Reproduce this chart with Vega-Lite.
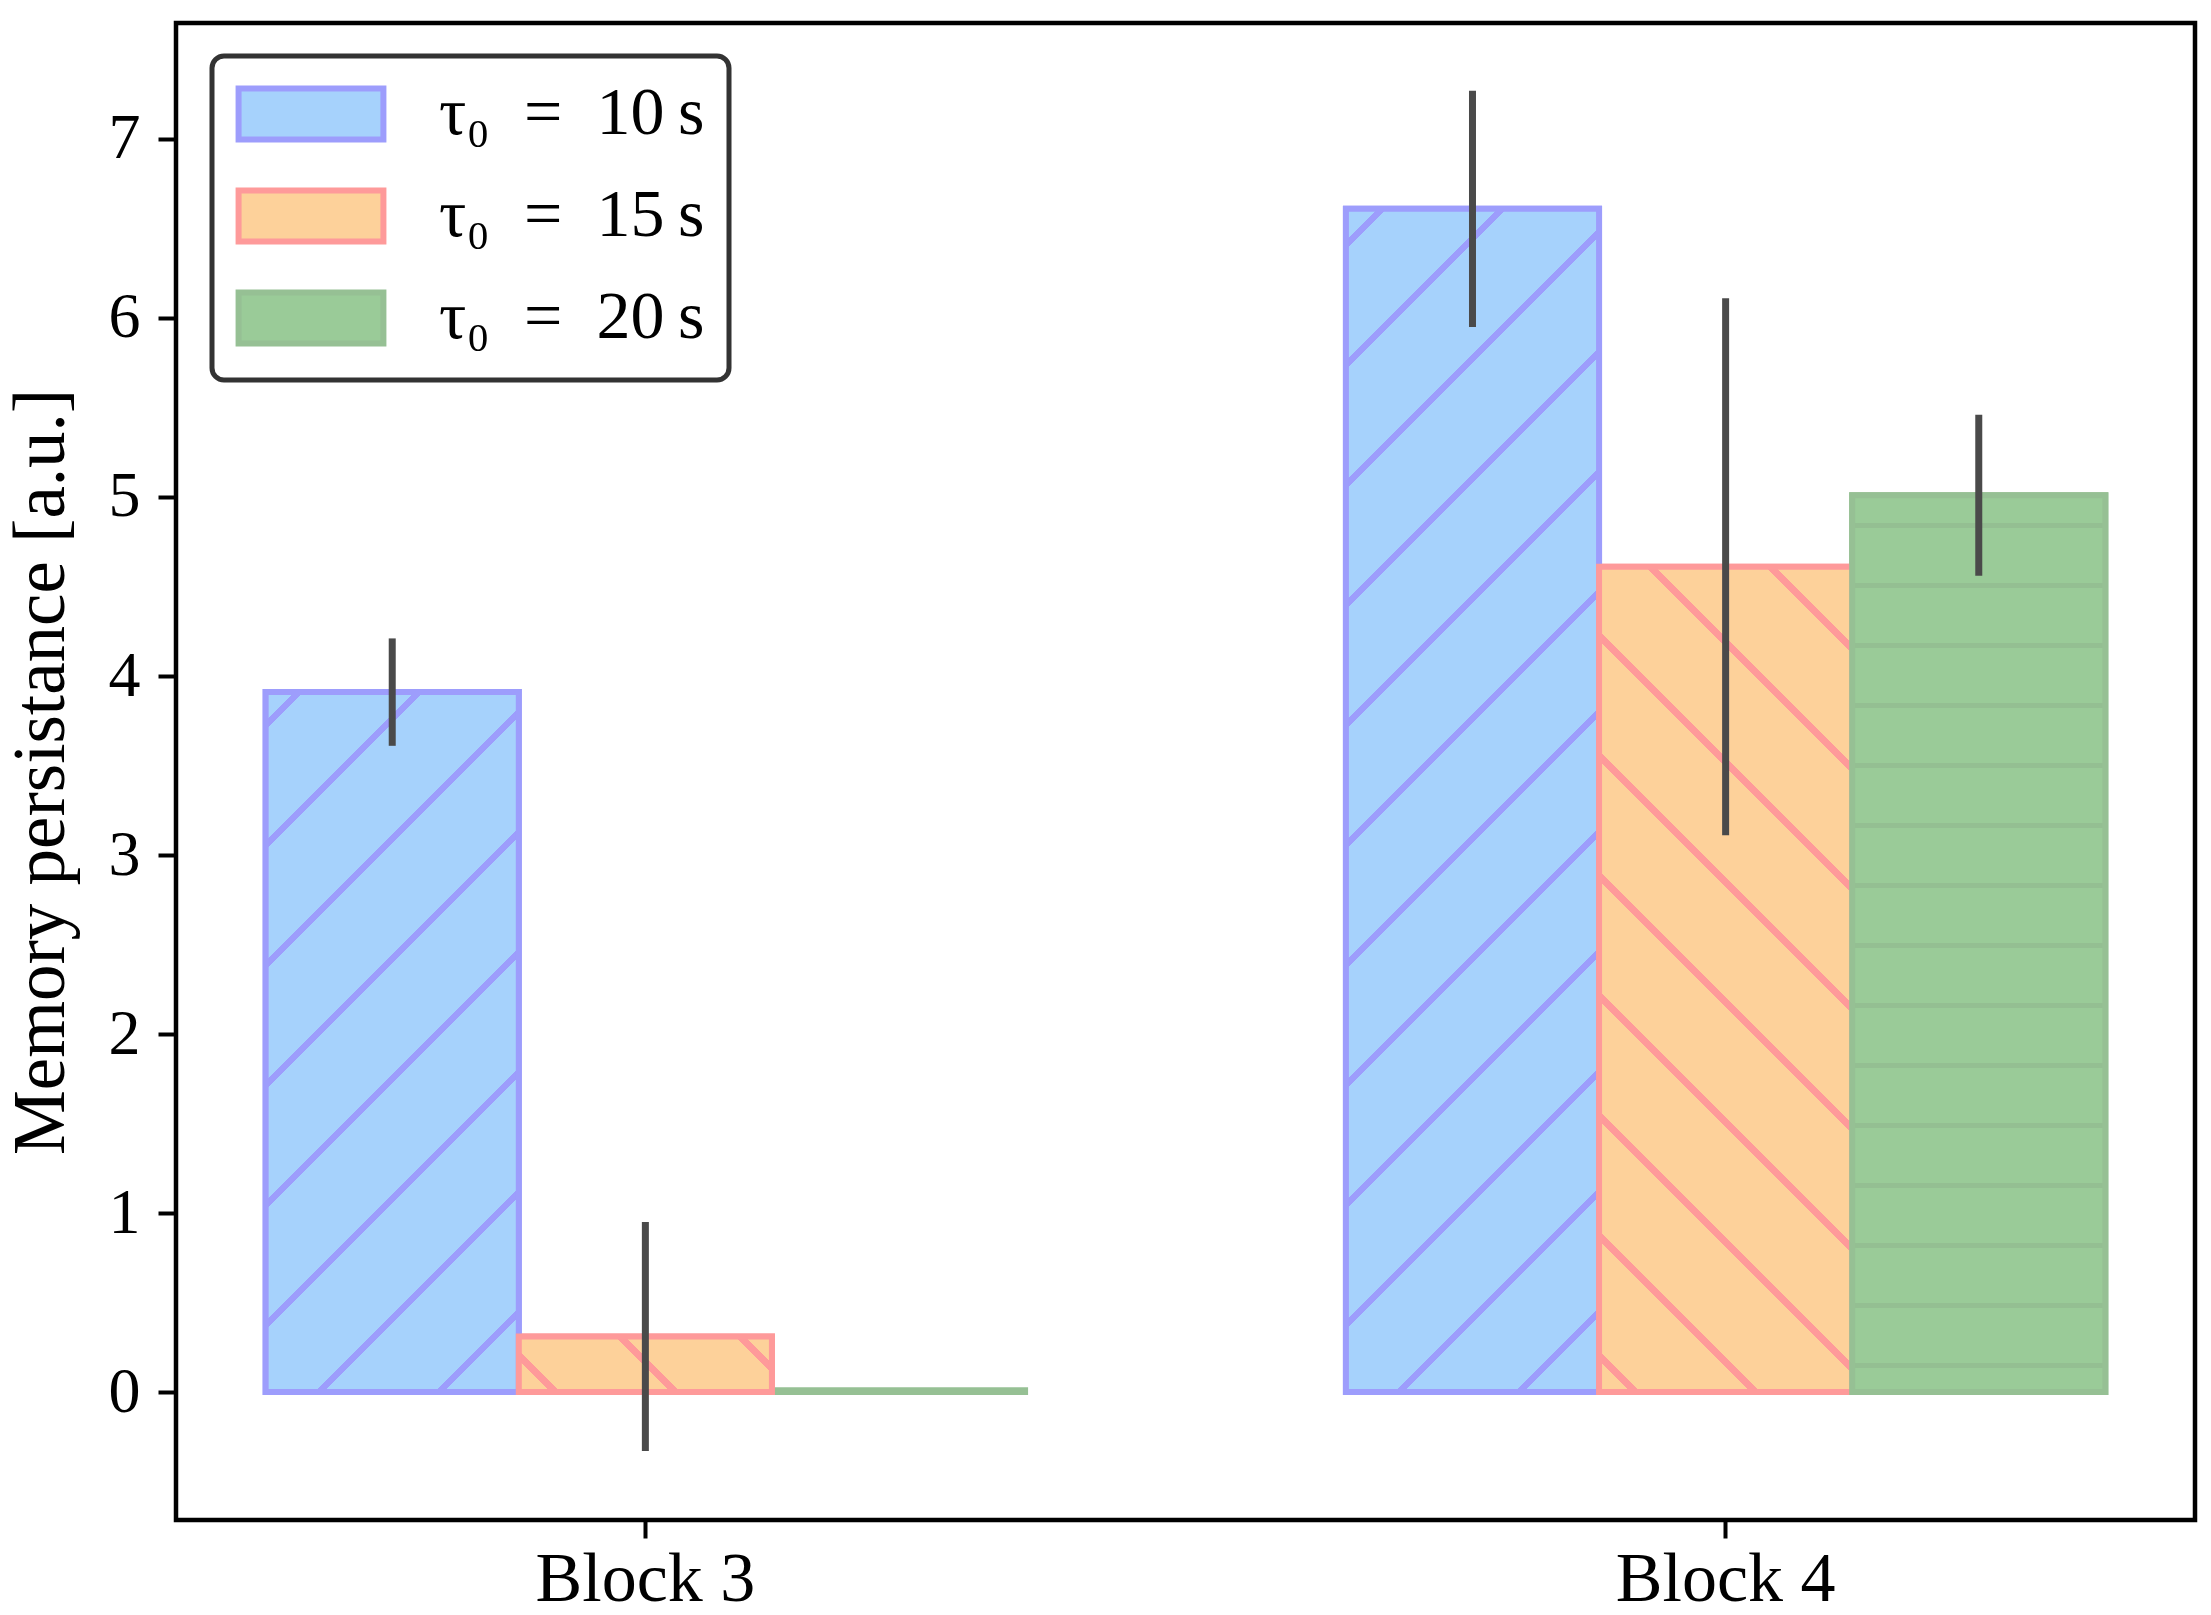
{
  "$schema": "https://vega.github.io/schema/vega-lite/v6.json",
  "width": 2019,
  "height": 1497,
  "autosize": {"type": "none"},
  "padding": {"left": 176, "top": 23, "right": 16, "bottom": 95},
  "background": "white",
  "data": {
    "values": [
      {"block": "Block 3", "tau": "τ₀ = 10 s", "value": 3.91, "lo": 3.61, "hi": 4.21},
      {"block": "Block 3", "tau": "τ₀ = 15 s", "value": 0.31, "lo": -0.33, "hi": 0.95},
      {"block": "Block 3", "tau": "τ₀ = 20 s", "value": 0.01, "lo": 0.01, "hi": 0.01},
      {"block": "Block 4", "tau": "τ₀ = 10 s", "value": 6.61, "lo": 5.95, "hi": 7.27},
      {"block": "Block 4", "tau": "τ₀ = 15 s", "value": 4.61, "lo": 3.11, "hi": 6.11},
      {"block": "Block 4", "tau": "τ₀ = 20 s", "value": 5.01, "lo": 4.56, "hi": 5.46}
    ]
  },
  "encoding": {
    "x": {
      "field": "block",
      "type": "nominal",
      "scale": {"paddingInner": 0.297, "paddingOuter": 0.083},
      "axis": {"title": null, "labelAngle": 0, "labelPadding": 7, "labelLimit": 0, "labelFontSize": 70}
    },
    "xOffset": {
      "field": "tau",
      "type": "nominal",
      "scale": {"paddingInner": 0, "paddingOuter": 0}
    }
  },
  "layer": [
    {
      "mark": {"type": "bar", "strokeWidth": 6},
      "encoding": {
        "y": {
          "field": "value",
          "type": "quantitative",
          "stack": null,
          "scale": {"domain": [-0.715, 7.648], "nice": false, "zero": false},
          "axis": {
            "values": [0, 1, 2, 3, 4, 5, 6, 7],
            "format": "d",
            "title": "Memory persistance [a.u.]",
            "titleFontSize": 73,
            "titlePadding": 30,
            "labelPadding": 18
          }
        },
        "y2": {"datum": 0},
        "fill": {
          "field": "tau",
          "type": "nominal",
          "scale": {
            "domain": ["τ₀ = 10 s", "τ₀ = 15 s", "τ₀ = 20 s"],
            "range": ["#A6D2FC", "#FDD19A", "#9ACB98"]
          },
          "legend": {
            "title": null,
            "orient": "none",
            "legendX": 36,
            "legendY": 33,
            "symbolType": "M-2.84,-1H2.84V1H-2.84Z",
            "symbolSize": 2601,
            "symbolStrokeWidth": 6,
            "symbolOffset": 41,
            "labelOffset": 94,
            "labelFont": "Liberation Serif",
            "labelFontSize": 68,
            "labelColor": "black",
            "labelLimit": 0,
            "labelExpr": "replace(replace(datum.label, ' = ', '\u2002=\u2002'), ' s', '\u2009s')",
            "rowPadding": 26,
            "padding": 24,
            "fillColor": "white",
            "strokeColor": "#333333",
            "cornerRadius": 12
          }
        },
        "stroke": {
          "field": "tau",
          "type": "nominal",
          "scale": {
            "domain": ["τ₀ = 10 s", "τ₀ = 15 s", "τ₀ = 20 s"],
            "range": ["#9D9DFC", "#FE9A9A", "#96C094"]
          }
        }
      }
    },
    {
      "transform": [{"filter": "datum.block == 'Block 3' && datum.tau == 'τ₀ = 10 s'"}],
      "mark": {
        "type": "bar",
        "stroke": "#9D9DFC",
        "strokeWidth": 6,
        "fill": {
          "gradient": "linear",
          "x1": 0, "y1": 0, "x2": 0.43553, "y2": 1.20418,
          "stops": [
            {"offset": 0, "color": "#A6D2FC"},
            {"offset": 0.02978, "color": "#A6D2FC"}, {"offset": 0.02978, "color": "#9D9DFC"}, {"offset": 0.03998, "color": "#9D9DFC"}, {"offset": 0.03998, "color": "#A6D2FC"},
            {"offset": 0.15569, "color": "#A6D2FC"}, {"offset": 0.15569, "color": "#9D9DFC"}, {"offset": 0.16589, "color": "#9D9DFC"}, {"offset": 0.16589, "color": "#A6D2FC"},
            {"offset": 0.2816, "color": "#A6D2FC"}, {"offset": 0.2816, "color": "#9D9DFC"}, {"offset": 0.2918, "color": "#9D9DFC"}, {"offset": 0.2918, "color": "#A6D2FC"},
            {"offset": 0.40752, "color": "#A6D2FC"}, {"offset": 0.40752, "color": "#9D9DFC"}, {"offset": 0.41772, "color": "#9D9DFC"}, {"offset": 0.41772, "color": "#A6D2FC"},
            {"offset": 0.53343, "color": "#A6D2FC"}, {"offset": 0.53343, "color": "#9D9DFC"}, {"offset": 0.54363, "color": "#9D9DFC"}, {"offset": 0.54363, "color": "#A6D2FC"},
            {"offset": 0.65934, "color": "#A6D2FC"}, {"offset": 0.65934, "color": "#9D9DFC"}, {"offset": 0.66954, "color": "#9D9DFC"}, {"offset": 0.66954, "color": "#A6D2FC"},
            {"offset": 0.78526, "color": "#A6D2FC"}, {"offset": 0.78526, "color": "#9D9DFC"}, {"offset": 0.79546, "color": "#9D9DFC"}, {"offset": 0.79546, "color": "#A6D2FC"},
            {"offset": 0.91117, "color": "#A6D2FC"}, {"offset": 0.91117, "color": "#9D9DFC"}, {"offset": 0.92137, "color": "#9D9DFC"}, {"offset": 0.92137, "color": "#A6D2FC"},
            {"offset": 1, "color": "#A6D2FC"}
          ]
        }
      },
      "encoding": {
        "y": {"field": "value", "type": "quantitative", "stack": null},
        "y2": {"datum": 0}
      }
    },
    {
      "transform": [{"filter": "datum.block == 'Block 4' && datum.tau == 'τ₀ = 10 s'"}],
      "mark": {
        "type": "bar",
        "stroke": "#9D9DFC",
        "strokeWidth": 6,
        "fill": {
          "gradient": "linear",
          "x1": 0, "y1": 0, "x2": 0.24835, "y2": 1.16081,
          "stops": [
            {"offset": 0, "color": "#A6D2FC"},
            {"offset": 0.02186, "color": "#A6D2FC"}, {"offset": 0.02186, "color": "#9D9DFC"}, {"offset": 0.02866, "color": "#9D9DFC"}, {"offset": 0.02866, "color": "#A6D2FC"},
            {"offset": 0.1054, "color": "#A6D2FC"}, {"offset": 0.1054, "color": "#9D9DFC"}, {"offset": 0.1122, "color": "#9D9DFC"}, {"offset": 0.1122, "color": "#A6D2FC"},
            {"offset": 0.18895, "color": "#A6D2FC"}, {"offset": 0.18895, "color": "#9D9DFC"}, {"offset": 0.19575, "color": "#9D9DFC"}, {"offset": 0.19575, "color": "#A6D2FC"},
            {"offset": 0.2725, "color": "#A6D2FC"}, {"offset": 0.2725, "color": "#9D9DFC"}, {"offset": 0.2793, "color": "#9D9DFC"}, {"offset": 0.2793, "color": "#A6D2FC"},
            {"offset": 0.35604, "color": "#A6D2FC"}, {"offset": 0.35604, "color": "#9D9DFC"}, {"offset": 0.36284, "color": "#9D9DFC"}, {"offset": 0.36284, "color": "#A6D2FC"},
            {"offset": 0.43958, "color": "#A6D2FC"}, {"offset": 0.43958, "color": "#9D9DFC"}, {"offset": 0.44638, "color": "#9D9DFC"}, {"offset": 0.44638, "color": "#A6D2FC"},
            {"offset": 0.52313, "color": "#A6D2FC"}, {"offset": 0.52313, "color": "#9D9DFC"}, {"offset": 0.52993, "color": "#9D9DFC"}, {"offset": 0.52993, "color": "#A6D2FC"},
            {"offset": 0.60667, "color": "#A6D2FC"}, {"offset": 0.60667, "color": "#9D9DFC"}, {"offset": 0.61347, "color": "#9D9DFC"}, {"offset": 0.61347, "color": "#A6D2FC"},
            {"offset": 0.69022, "color": "#A6D2FC"}, {"offset": 0.69022, "color": "#9D9DFC"}, {"offset": 0.69702, "color": "#9D9DFC"}, {"offset": 0.69702, "color": "#A6D2FC"},
            {"offset": 0.77377, "color": "#A6D2FC"}, {"offset": 0.77377, "color": "#9D9DFC"}, {"offset": 0.78057, "color": "#9D9DFC"}, {"offset": 0.78057, "color": "#A6D2FC"},
            {"offset": 0.85731, "color": "#A6D2FC"}, {"offset": 0.85731, "color": "#9D9DFC"}, {"offset": 0.86411, "color": "#9D9DFC"}, {"offset": 0.86411, "color": "#A6D2FC"},
            {"offset": 0.94086, "color": "#A6D2FC"}, {"offset": 0.94086, "color": "#9D9DFC"}, {"offset": 0.94766, "color": "#9D9DFC"}, {"offset": 0.94766, "color": "#A6D2FC"},
            {"offset": 1, "color": "#A6D2FC"}
          ]
        }
      },
      "encoding": {
        "y": {"field": "value", "type": "quantitative", "stack": null},
        "y2": {"datum": 0}
      }
    },
    {
      "transform": [{"filter": "datum.block == 'Block 3' && datum.tau == 'τ₀ = 15 s'"}],
      "mark": {
        "type": "bar",
        "stroke": "#FE9A9A",
        "strokeWidth": 6,
        "fill": {
          "gradient": "linear",
          "x1": 0, "y1": 1, "x2": 1.16333, "y2": 0.74494,
          "stops": [
            {"offset": 0, "color": "#FDD19A"},
            {"offset": 0.10331, "color": "#FDD19A"}, {"offset": 0.10331, "color": "#FE9A9A"}, {"offset": 0.13451, "color": "#FE9A9A"}, {"offset": 0.13451, "color": "#FDD19A"},
            {"offset": 0.49211, "color": "#FDD19A"}, {"offset": 0.49211, "color": "#FE9A9A"}, {"offset": 0.52331, "color": "#FE9A9A"}, {"offset": 0.52331, "color": "#FDD19A"},
            {"offset": 0.88091, "color": "#FDD19A"}, {"offset": 0.88091, "color": "#FE9A9A"}, {"offset": 0.91211, "color": "#FE9A9A"}, {"offset": 0.91211, "color": "#FDD19A"},
            {"offset": 1, "color": "#FDD19A"}
          ]
        }
      },
      "encoding": {
        "y": {"field": "value", "type": "quantitative", "stack": null},
        "y2": {"datum": 0}
      }
    },
    {
      "transform": [{"filter": "datum.block == 'Block 4' && datum.tau == 'τ₀ = 15 s'"}],
      "mark": {
        "type": "bar",
        "stroke": "#FE9A9A",
        "strokeWidth": 6,
        "fill": {
          "gradient": "linear",
          "x1": 0, "y1": 1, "x2": 0.36639, "y2": -0.19439,
          "stops": [
            {"offset": 0, "color": "#FDD19A"},
            {"offset": 0.02926, "color": "#FDD19A"}, {"offset": 0.02926, "color": "#FE9A9A"}, {"offset": 0.03826, "color": "#FE9A9A"}, {"offset": 0.03826, "color": "#FDD19A"},
            {"offset": 0.14054, "color": "#FDD19A"}, {"offset": 0.14054, "color": "#FE9A9A"}, {"offset": 0.14954, "color": "#FE9A9A"}, {"offset": 0.14954, "color": "#FDD19A"},
            {"offset": 0.25182, "color": "#FDD19A"}, {"offset": 0.25182, "color": "#FE9A9A"}, {"offset": 0.26082, "color": "#FE9A9A"}, {"offset": 0.26082, "color": "#FDD19A"},
            {"offset": 0.3631, "color": "#FDD19A"}, {"offset": 0.3631, "color": "#FE9A9A"}, {"offset": 0.3721, "color": "#FE9A9A"}, {"offset": 0.3721, "color": "#FDD19A"},
            {"offset": 0.47438, "color": "#FDD19A"}, {"offset": 0.47438, "color": "#FE9A9A"}, {"offset": 0.48338, "color": "#FE9A9A"}, {"offset": 0.48338, "color": "#FDD19A"},
            {"offset": 0.58566, "color": "#FDD19A"}, {"offset": 0.58566, "color": "#FE9A9A"}, {"offset": 0.59466, "color": "#FE9A9A"}, {"offset": 0.59466, "color": "#FDD19A"},
            {"offset": 0.69695, "color": "#FDD19A"}, {"offset": 0.69695, "color": "#FE9A9A"}, {"offset": 0.70595, "color": "#FE9A9A"}, {"offset": 0.70595, "color": "#FDD19A"},
            {"offset": 0.80823, "color": "#FDD19A"}, {"offset": 0.80823, "color": "#FE9A9A"}, {"offset": 0.81723, "color": "#FE9A9A"}, {"offset": 0.81723, "color": "#FDD19A"},
            {"offset": 0.91951, "color": "#FDD19A"}, {"offset": 0.91951, "color": "#FE9A9A"}, {"offset": 0.92851, "color": "#FE9A9A"}, {"offset": 0.92851, "color": "#FDD19A"},
            {"offset": 1, "color": "#FDD19A"}
          ]
        }
      },
      "encoding": {
        "y": {"field": "value", "type": "quantitative", "stack": null},
        "y2": {"datum": 0}
      }
    },
    {
      "transform": [{"filter": "datum.block == 'Block 4' && datum.tau == 'τ₀ = 20 s'"}],
      "mark": {
        "type": "bar",
        "stroke": "#96C094",
        "strokeWidth": 6,
        "fill": {
          "gradient": "linear",
          "x1": 1, "y1": 0, "x2": 1, "y2": 1,
          "stops": [
            {"offset": 0, "color": "#9ACB98"},
            {"offset": 0.0314, "color": "#9ACB98"}, {"offset": 0.0314, "color": "#94BF92"}, {"offset": 0.037, "color": "#94BF92"}, {"offset": 0.037, "color": "#9ACB98"},
            {"offset": 0.0983, "color": "#9ACB98"}, {"offset": 0.0983, "color": "#94BF92"}, {"offset": 0.1039, "color": "#94BF92"}, {"offset": 0.1039, "color": "#9ACB98"},
            {"offset": 0.1652, "color": "#9ACB98"}, {"offset": 0.1652, "color": "#94BF92"}, {"offset": 0.1708, "color": "#94BF92"}, {"offset": 0.1708, "color": "#9ACB98"},
            {"offset": 0.2321, "color": "#9ACB98"}, {"offset": 0.2321, "color": "#94BF92"}, {"offset": 0.2377, "color": "#94BF92"}, {"offset": 0.2377, "color": "#9ACB98"},
            {"offset": 0.299, "color": "#9ACB98"}, {"offset": 0.299, "color": "#94BF92"}, {"offset": 0.3046, "color": "#94BF92"}, {"offset": 0.3046, "color": "#9ACB98"},
            {"offset": 0.366, "color": "#9ACB98"}, {"offset": 0.366, "color": "#94BF92"}, {"offset": 0.3716, "color": "#94BF92"}, {"offset": 0.3716, "color": "#9ACB98"},
            {"offset": 0.4329, "color": "#9ACB98"}, {"offset": 0.4329, "color": "#94BF92"}, {"offset": 0.4385, "color": "#94BF92"}, {"offset": 0.4385, "color": "#9ACB98"},
            {"offset": 0.4998, "color": "#9ACB98"}, {"offset": 0.4998, "color": "#94BF92"}, {"offset": 0.5054, "color": "#94BF92"}, {"offset": 0.5054, "color": "#9ACB98"},
            {"offset": 0.5667, "color": "#9ACB98"}, {"offset": 0.5667, "color": "#94BF92"}, {"offset": 0.5723, "color": "#94BF92"}, {"offset": 0.5723, "color": "#9ACB98"},
            {"offset": 0.6336, "color": "#9ACB98"}, {"offset": 0.6336, "color": "#94BF92"}, {"offset": 0.6392, "color": "#94BF92"}, {"offset": 0.6392, "color": "#9ACB98"},
            {"offset": 0.7005, "color": "#9ACB98"}, {"offset": 0.7005, "color": "#94BF92"}, {"offset": 0.7061, "color": "#94BF92"}, {"offset": 0.7061, "color": "#9ACB98"},
            {"offset": 0.7674, "color": "#9ACB98"}, {"offset": 0.7674, "color": "#94BF92"}, {"offset": 0.773, "color": "#94BF92"}, {"offset": 0.773, "color": "#9ACB98"},
            {"offset": 0.8343, "color": "#9ACB98"}, {"offset": 0.8343, "color": "#94BF92"}, {"offset": 0.8399, "color": "#94BF92"}, {"offset": 0.8399, "color": "#9ACB98"},
            {"offset": 0.9012, "color": "#9ACB98"}, {"offset": 0.9012, "color": "#94BF92"}, {"offset": 0.9068, "color": "#94BF92"}, {"offset": 0.9068, "color": "#9ACB98"},
            {"offset": 0.9681, "color": "#9ACB98"}, {"offset": 0.9681, "color": "#94BF92"}, {"offset": 0.9737, "color": "#94BF92"}, {"offset": 0.9737, "color": "#9ACB98"},
            {"offset": 1, "color": "#9ACB98"}
          ]
        }
      },
      "encoding": {
        "y": {"field": "value", "type": "quantitative", "stack": null},
        "y2": {"datum": 0}
      }
    },
    {
      "mark": {"type": "rule", "color": "#4A4A4A", "strokeWidth": 7},
      "encoding": {
        "y": {"field": "lo", "type": "quantitative"},
        "y2": {"field": "hi"}
      }
    }
  ],
  "config": {
    "font": "Liberation Serif",
    "view": {"stroke": "black", "strokeWidth": 4.5},
    "axis": {
      "labelFont": "Liberation Serif",
      "labelFontSize": 64,
      "labelColor": "black",
      "titleFont": "Liberation Serif",
      "titleFontSize": 64,
      "titleFontWeight": "normal",
      "titleColor": "black",
      "tickColor": "black",
      "tickWidth": 4,
      "tickSize": 18,
      "domain": false,
      "grid": false
    },
    "legend": {"strokeWidth": 5}
  }
}
